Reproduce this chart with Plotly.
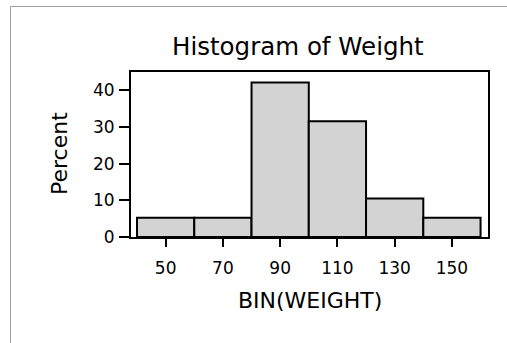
import plotly.graph_objects as go

bin_centers = [50, 70, 90, 110, 130, 150]
percent = [5.26, 5.26, 42.11, 31.58, 10.53, 5.26]
x_ticks = [50, 70, 90, 110, 130, 150]
y_ticks = [0, 10, 20, 30, 40]

W, H = 507, 343
L, R, T, B = 131, 19, 72, 106
pw, ph = W - L - R, H - T - B

def px(x):
    return (x - L) / pw

def py(y):
    return (H - B - y) / ph

font = "DejaVu Sans"
fig = go.Figure()
fig.add_trace(go.Bar(
    x=bin_centers, y=percent, width=20,
    marker=dict(color="#d3d3d3", line=dict(color="black", width=2)),
))

fig.update_layout(
    width=W, height=H,
    margin=dict(l=L, r=R, t=T, b=B),
    paper_bgcolor="white", plot_bgcolor="white",
    showlegend=False,
    font=dict(family=font, color="black"),
    xaxis=dict(range=[37.9, 162.6], tickvals=x_ticks, ticks="outside", ticklen=8,
               tickwidth=2, tickcolor="black", showline=True, linecolor="black",
               linewidth=2, mirror=True, showgrid=False, zeroline=False,
               ticklabelstandoff=7,
               tickfont=dict(size=17, family=font)),
    yaxis=dict(range=[0, 45], tickvals=y_ticks, ticks="outside", ticklen=10,
               tickwidth=2, tickcolor="black", showline=True, linecolor="black",
               linewidth=2, mirror=True, showgrid=False, zeroline=False,
               ticklabelstandoff=1,
               tickfont=dict(size=17, family=font)),
    annotations=[
        dict(text="Histogram of Weight", xref="paper", yref="paper",
             x=px(298), y=py(47), showarrow=False, font=dict(size=24.5, family=font),
             xanchor="center", yanchor="middle"),
        dict(text="Percent", xref="paper", yref="paper", textangle=-90,
             x=px(59), y=py(154), showarrow=False, font=dict(size=22, family=font),
             xanchor="center", yanchor="middle"),
        dict(text="BIN(WEIGHT)", xref="paper", yref="paper",
             x=0.5, y=py(300), showarrow=False, font=dict(size=22, family=font),
             xanchor="center", yanchor="middle"),
    ],
    shapes=[
        dict(type="path", xref="paper", yref="paper",
             path=f"M {px(10.5)} {py(400)} L {px(10.5)} {py(6.5)} L {px(520)} {py(6.5)}",
             line=dict(color="#a0a0a0", width=1)),
    ],
)

fig.write_html("out.html")
